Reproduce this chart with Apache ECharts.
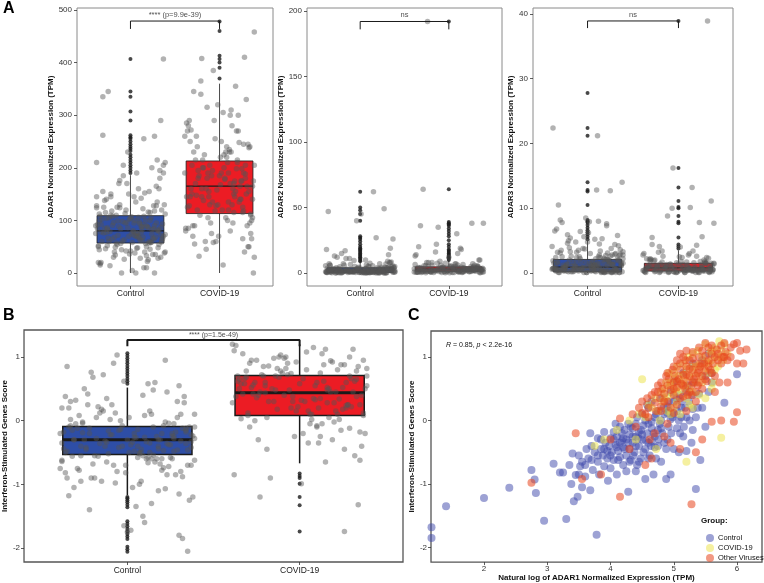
<!DOCTYPE html>
<html><head><meta charset="utf-8">
<script src="https://cdn.jsdelivr.net/npm/echarts@6/dist/echarts.min.js"></script>
<style>html,body{margin:0;padding:0;background:#fff}#c{width:764px;height:583px}</style>
</head><body><div id="c"></div>
<script>
const FONT = '"Liberation Sans", Arial, Helvetica, sans-serif';
const groups = ['Control', 'COVID-19'];
const boxColors = ['#2e4ea6', '#ec1c24'];

// jitter offsets (category units)
const ctrlDx = [-0.31,0.12,0.35,-0.05,0.22,-0.38,0.08,-0.19,0.29,-0.27,
0.02,0.17,-0.12,0.39,-0.34,0.25,-0.08,0.31,-0.22,0.05,
0.14,-0.36,0.27,-0.15,0.37,-0.02,0.19,-0.29,0.1,-0.24,
0.33,-0.1,0.23,-0.33,0.06,0.38,-0.18,0.15,-0.39,0.28,
-0.06,0.21,-0.26,0.03,0.34,-0.14,0.11,-0.35,0.26,-0.21,
0.07,0.32,-0.03,0.18,-0.3,0.24,-0.11,0.36,-0.25,0.01,
0.16,-0.37,0.3,-0.07,0.2,-0.32,0.09,0.39,-0.17,0.13,
-0.28,0.04,0.35,-0.23,0.27,-0.04,0.18,-0.38,0.1,-0.13,
0.32,-0.2,0.06,0.24,-0.34,0.15,-0.09,0.37,-0.26,0.0,
0.29,-0.16,0.12,-0.31,0.22,-0.01,0.34,-0.22,0.08,-0.36,
0.04,-0.24,0.31,-0.12,0.19,-0.33,0.09,0.36,-0.06,0.27,
-0.18,0.13,-0.38,0.23,-0.01,0.34,-0.27,0.07,0.39,-0.15,
0.2,-0.3,0.02,0.28,-0.09,0.16,-0.35,0.32,-0.2,0.11,
-0.04,0.25,-0.37,0.14,0.37,-0.23,0.05,-0.29,0.21,-0.11,
0.33,-0.16,0.08,-0.39,0.26,-0.07,0.18,-0.32,0.3,0.0,
-0.25,0.12,0.38,-0.13,0.22,-0.36,0.03,0.29,-0.19,0.15,
-0.02,0.35,-0.28,0.1,-0.08,0.24,-0.34,0.17,0.06,-0.21,
0.31,-0.14,0.01,0.37,-0.26,0.2,-0.05,0.13,-0.31,0.27,
-0.17,0.09,0.34,-0.38,0.23,-0.1,0.04,0.3,-0.22,0.18,
-0.35,0.14,-0.03,0.26,-0.27,0.39,0.07,-0.12,0.21,-0.33];
const covDx = [0.21,-0.33,0.07,0.36,-0.14,0.28,-0.25,0.02,0.39,-0.08,
0.15,-0.37,0.31,-0.19,0.1,-0.29,0.24,-0.04,0.34,-0.22,
0.05,0.38,-0.12,0.19,-0.35,0.27,-0.02,0.13,-0.27,0.33,
-0.17,0.09,-0.39,0.23,0.0,0.35,-0.21,0.16,-0.31,0.26,
-0.06,0.37,-0.15,0.11,-0.36,0.3,-0.1,0.2,-0.24,0.04,
0.32,-0.18,0.14,-0.3,0.25,-0.03,0.39,-0.13,0.08,-0.38,
0.18,-0.26,0.29,-0.07,0.12,-0.34,0.22,0.01,-0.2,0.35,
-0.11,0.26,-0.32,0.06,0.17,-0.23,0.33,-0.05,0.1,-0.28,
-0.2,0.11,0.34,-0.09,0.24,-0.36,0.03,0.29,-0.16,0.17,
-0.31,0.08,0.37,-0.24,0.14,-0.02,0.31,-0.38,0.2,-0.12,
0.06,-0.28,0.26,-0.05,0.36,-0.19,0.12,-0.34,0.22,-0.09,
0.01,0.33,-0.26,0.16,-0.13,0.28,-0.37,0.09,0.38,-0.21,
-0.04,0.19,-0.3,0.27,-0.15,0.04,0.35,-0.23,0.13,-0.01,
0.3,-0.35,0.1,-0.18,0.23,-0.07,0.37,-0.27,0.15,-0.33,
0.25,-0.11,0.05,0.32,-0.39,0.18,-0.14,0.07,0.29,-0.25,
-0.08,0.21,-0.32,0.12,0.39,-0.2,0.02,0.27,-0.29,0.16];

// ADAR1
const a1Box = [[0,57,80,109,186],[0,113,165,213,360]];
const a1OutC = [190,195,200,205,210,215,220,225,232,236,240,245,250,255,258,262,290,307,335,345,407];
const a1OutV = [370,390,400,407,413,460,478];
const a1JitC = [335,88,62,120,45,210,75,30,95,140,58,100,176,73,15,66,205,82,110,38,92,50,260,125,407,150,22,85,97,60,180,44,105,78,0,130,68,255,90,35,113,155,52,81,290,72,28,99,64,118,47,160,86,10,76,200,56,93,345,107,40,84,135,63,25,102,71,210,49,88,115,145,59,79,0,96,33,124,66,170,54,91,70,74,18,108,61,190,83,42,128,57,77,262,100,36,87,150,69,20,
72,105,48,130,88,20,160,65,95,118,40,82,145,58,102,30,77,190,112,54,86,125,5,68,98,152,44,80,108,62,170,35,92,122,70,14,100,138,57,84,195,110,48,75,128,26,90,60,215,104,66,142,38,88,115,52,78,165,96,10,70,120,46,94,185,82,108,56,135,64,28,99,74,205,86,116,42,62,155,90,34,106,72,128,58,0,95,80,145,50,112,68,230,84,104,40,76,124,60,92];
const a1JitV = [300,145,230,65,180,410,120,250,30,195,160,285,90,215,135,345,175,60,240,110,200,0,155,270,85,190,130,310,170,50,225,100,260,140,185,75,365,150,205,115,290,165,45,235,125,330,95,210,180,15,245,138,280,70,198,158,458,105,220,80,355,148,188,58,300,128,248,168,408,112,205,65,272,178,145,32,238,118,190,90,
160,230,95,185,140,270,120,205,60,175,150,240,105,195,130,320,165,85,215,145,180,55,125,255,100,200,170,290,135,75,220,155,260,115,190,40,145,210,175,340,128,198,90,245,160,305,110,185,230,70,150,280,120,200,165,385,140,215,95,250,175,130,225,50,190,155,315,105,180,240,135,270,160,80,205,145,190,118,230,170];
// ADAR2
const a2Box = [[0,0.5,2,4,9],[0,1.3,3,4.7,9.5]];
const a2OutC = [9,10,11,12,13,14,15,16,17,18,19,20,22,24,26,27,28,40,45,48,50,62];
const a2OutV = [10,11,12,13,14,15,16,17,18,20,22,25,28,30,32,34,36,37,38,39,64,192];
const a2JitC = [2,1,5,0.5,3,18,1.5,7,0.2,4,2.5,1,11,0.8,6,3.5,1.2,9,0.3,2,5.5,1,49,2.8,0.6,4.5,1.8,13,0.4,3,8,1.1,2.2,0.7,10,3.8,1.4,62,0.9,2.6,5,0.1,12,1.6,3.2,0.5,7.5,2.1,1,15,0.3,4.2,2.4,27,1.3,0.8,6.5,2.9,0.6,45,1.9,3.6,0.2,9.5,1.2,2.3,5.2,0.7,17,1.5,3.1,0.4,8.5,2,1.1,40,2.7,0.9,4.8,1.7,14,0.5,3.4,1.3,6,2.2,0.8,26,1,3.9,0.3,11,2.5,1.6,7,0.6,19,2.8,1.2,47,
1.5,0.3,2.8,0.9,4,1.2,0.5,3.3,2,0.1,6,1.7,0.7,2.5,0.4,3.6,1.1,0.2,5,1.9,0.8,2.9,0.3,4.4,1.4,0.6,7,2.3,1,0.2,3.1,1.6,0.5,2.6,0.9,4.7,0.1,1.8,3.4,0.7,2.2,1.3,0.4,5.6,2.7,0.8,1.5,0.3,3.8,1.1,2,0.6,4.2,1.7,0.2,2.4,0.9,6.8,1.3,0.5,3,1.9,0.1,2.6,1,4.5,0.7,1.4,3.5,0.3,2.1,1.2,0.6,5.3,2.8,0.4,1.6,0.9,3.2,0.2,2.3,1.1,7.8,0.5,1.8,2.9,0.8,4,1.3,0.1,2.5,0.7,3.7,1.5,0.3,2,6.2,1,0.6,2.7];
const a2JitV = [3,1,5,0.5,22,2,8,1.5,38,4,0.8,14,2.5,6,1.2,64,3.5,0.3,10,2,4.5,1,35,3,0.6,7,2.2,19,1.8,5,0.4,30,3.2,1.1,12,2.8,0.9,6.5,1.6,38,4.2,2,16,0.7,3.6,1.4,9,2.4,192,0.5,5.5,2.1,18,3.3,1.2,4,0.8,7.5,2.6,13,1.9,0.3,6,3,1.5,20,2.3,4.8,0.6,10,3.8,1.7,36,2.9,1,8,4.4,0.9,15,2.7,
2.5,4,1,6,3.2,0.7,5,2,1.5,3.8,0.4,7,2.8,1.2,4.5,0.9,3,6.5,1.8,2.4,0.5,5.5,3.5,1.3,2.2,8,0.8,4.2,2.6,1.6,0.3,3.3,5.8,1.1,2.9,4.8,0.6,2,3.6,1.4,7.5,2.7,0.9,4.1,1.9,3.1,0.2,5.2,2.3,1.7,3.9,0.7,6.2,2.1,1,4.4,2.8,1.5,0.4,3.4,5,1.2,2.6,4.6,0.8,3.7,1.8,6.8,2.4,1.3,0.5,3,4.3,1.6,2.9,0.9,5.6,2.2,1.1,3.5];
// ADAR3
const a3Box = [[0,0.2,0.9,2.1,5],[0,0.3,0.8,1.5,3.5]];
const a3OutC = [5.2,5.6,6,6.3,6.6,7,7.4,7.8,8,8.2,10.5,12.6,12.8,14,21.2,22.4,27.8];
const a3OutV = [3.8,4.1,4.4,5.5,7.7,7.9,8.8,10,10.2,11.1,13.2,16.2,38.9];
const a3JitC = [0.5,2.5,0.1,3.8,1.2,22.4,0.3,5.4,1.8,0.8,7.9,0.2,3.2,1.5,0.6,12.7,2.2,0.1,4.6,1,0.4,6.5,2.8,0.7,1.4,8.5,0.2,3.5,1.1,0.9,5.8,0.3,2,1.6,0.5,14,2.6,0.1,4.1,1.3,0.8,7.3,0.4,3,1.9,0.6,21.2,2.4,0.2,5,1.2,0.7,3.7,0.1,8.2,1.7,0.5,2.9,0.9,6.2,0.3,1.5,4.4,0.6,2.1,10.5,0.2,3.3,1.1,0.8,7.8,0.4,2.7,1.4,0.1,5.6,2.3,0.7,12.8,1,0.3,3.9,1.8,0.5,6.8,0.2,2.5,1.2,0.9,4.8,0.6,1.6,8,0.4,3.1,0.1,2,1.3,5.2,0.7,
0.3,1.1,0.6,2.4,0.1,1.7,0.9,3.6,0.4,1.3,0.2,2.8,0.7,1.9,0.1,4.2,0.5,1.2,2.2,0.3,0.8,3.1,1.5,0.2,0.6,5.3,1,0.4,2,1.4,0.1,2.6,0.7,3.4,1.1,0.3,1.8,0.5,7.6,0.9,2.3,0.2,1.3,0.6,3.8,1.6,0.4,0.1,2.9,1,0.7,1.5,0.2,4.8,2.1,0.5,1.2,0.3,3.3,0.8,1.7,0.1,2.5,0.6,6.4,1.4,0.4,2,0.9,0.2,3,1.1,0.5,1.6,0.3,2.7,0.8,4.5,0.1,1.3,0.6,2.2,0.4,1.9,0.2,3.5,1,0.7,5.9,1.5,0.3,2.4,0.9,0.1,1.2,2.8,0.5,1.8,0.2,3.2];
const a3JitV = [0.5,1.2,0.1,11.1,0.8,2,0.3,4,1.5,0.6,13.2,0.2,2.4,1,0.4,5.5,1.8,0.7,0.1,3.2,1.3,0.5,8.8,0.9,2.2,0.3,1.6,10.1,0.6,0.2,2.6,1.1,0.4,7.8,1.4,0.8,0.1,3.4,1.9,0.5,16.2,1.2,0.3,2.8,0.7,1.5,0.2,4.3,1,0.6,38.9,1.7,0.4,2.1,0.9,0.1,7.7,1.3,0.5,3,0.8,0.2,1.8,10,0.6,1.1,0.3,2.5,1.4,0.7,0.1,5.6,1,0.4,1.6,0.9,2.3,0.2,1.2,0.5,
0.4,0.9,0.2,1.4,0.6,0.1,1.8,0.3,1,0.7,2.2,0.5,0.2,1.2,0.8,0.1,1.6,0.4,2.6,0.6,0.3,1.1,0.9,0.2,1.5,0.5,3,0.7,0.1,1.3,0.4,0.8,2,0.3,1,0.6,0.2,1.7,0.5,4.1,0.9,0.1,1.2,0.4,0.7,2.4,0.3,1.1,0.6,0.2,1.5,0.8,0.4,3.4,0.1,1,0.5,1.9,0.3,0.7,1.3,0.2,0.9,0.6,2.8,0.4,1.1,0.1,1.6,0.5,0.8,0.3,2.1,0.7,1.4,0.2,1,0.6,4.4,0.4];
// ISG score
const bBox = [[-1.17,-0.53,-0.3,-0.09,0.52],[-0.67,0.08,0.44,0.71,1.2]];
const bOutC = [0.58,0.62,0.66,0.7,0.74,0.78,0.82,0.86,0.9,0.94,0.98,1.02,1.06,-1.2,-1.22,-1.25,-1.28,-1.32,-1.36,-1.58,-1.62,-1.66,-1.7,-1.74,-1.78,-1.82,-1.86,-1.98,-2.02,-2.06];
const bOutV = [-0.83,-0.87,-0.9,-0.99,-1.2,-1.33,-1.74];
const bJitC = [-0.3,0.58,-0.7,-0.15,-1.07,0.2,-0.45,-0.9,0.05,-0.55,-1.72,-0.25,0.35,-0.62,-0.1,-0.38,0.9,-0.8,-0.2,-1.35,0.1,-0.5,-0.05,-0.95,-0.33,0.62,-0.68,-0.12,-1.6,-0.42,0.28,-0.22,-0.85,0.02,-0.58,-1.2,-0.28,0.48,-0.75,-0.18,1.03,-0.47,-0.02,-1.05,-0.36,0.15,-0.6,-0.9,-0.24,0.76,-0.52,-1.85,-0.08,-0.4,0.32,-0.72,-0.16,-1.25,-0.3,0.05,-0.65,-0.44,0.55,-0.98,-0.2,-0.56,-1.5,-0.1,0.22,-0.35,-0.78,-0.26,-2.05,0.42,-0.48,-0.14,-1.1,-0.62,0.08,-0.32,-0.88,0.68,-0.4,-0.04,-1.18,-0.54,0.25,-0.7,-0.19,-1.75,-0.46,0.12,-0.58,-0.3,0.95,-0.82,-0.12,-1.4,-0.5,0.38,
-0.2,-0.45,0.1,-0.65,-0.3,0.3,-0.55,-0.1,-0.8,-0.25,0.05,-0.5,-0.35,0.45,-0.7,-0.15,-0.4,-1.0,-0.28,0.18,-0.6,-0.05,-0.38,-0.85,-0.22,0.6,-0.48,-0.12,-0.68,-0.33,0.0,-0.58,-0.18,-1.3,-0.42,0.25,-0.27,-0.75,-0.08,-0.52,0.38,-0.36,-0.95,-0.2,-0.6,0.12,-0.44,-0.15,-1.15,-0.3,0.5,-0.66,-0.24,-0.4,-0.02,-0.82,-0.34,0.3,-0.55,-0.1,-1.65,-0.46,0.08,-0.26,-0.7,-0.38,0.2,-0.6,-0.14,-0.9,-0.32,0.72,-0.5,-0.22,-0.04,-0.78,-0.42,0.15,-1.05,-0.28,-0.56,0.4,-0.18,-0.64,-0.36,0.02,-0.48,-1.8,-0.12,-0.3,0.85,-0.6,-0.4,-0.2,-0.95,0.1,-0.5,-0.34,-0.74,-0.08];
const bJitV = [0.45,1.05,0.1,-0.4,0.7,0.25,0.95,-0.2,0.55,0.82,-0.65,0.38,1.12,0.05,0.6,-0.1,0.88,0.3,-1.32,0.72,0.15,0.5,1.0,-0.3,0.65,0.2,0.92,-0.05,0.42,0.78,-0.9,0.33,1.2,0.02,0.58,-0.18,0.85,0.28,0.68,-1.74,0.48,0.12,0.98,-0.35,0.62,0.22,0.75,-0.02,0.4,1.08,-0.55,0.3,0.88,0.08,0.52,-0.25,0.7,0.18,1.15,-0.85,0.45,0.6,-0.12,0.9,0.35,0.03,0.8,-0.99,0.55,0.25,1.03,-0.45,0.66,0.1,0.5,-1.2,0.38,0.74,-0.08,0.95,
0.6,0.2,0.85,0.4,-0.15,0.7,0.3,1.0,0.5,0.05,0.78,0.35,0.95,-0.3,0.62,0.15,0.45,1.1,0.28,0.68,-0.05,0.52,0.88,0.2,0.4,-0.45,0.75,0.58,0.1,0.98,0.32,0.65,0.0,0.48,0.82,0.25,1.18,0.55,-0.2,0.7,0.38,0.92,0.12,0.6,0.3,0.8,-0.62,0.45,1.05,0.22,0.66,0.5,-0.1,0.86,0.34,0.72,0.08,0.56,1.12,0.42,0.18,0.78,-0.35,0.62,0.28,0.94,0.48,0.02,0.7,0.36,1.0,0.15,0.58,-0.25,0.82,0.44,0.66,0.24,0.9,0.52];

// significance brackets [y, tick length, label]
const brA1 = [479, 15, '**** (p=9.9e-39)'];
const brA2 = [192, 6, 'ns'];
const brA3 = [38.9, 1.1, 'ns'];
const brB = [1.267, 0.1, '**** (p=1.5e-49)'];

// scatter: [ln ADAR1, ISG score]
const scCtrl = [[1.16,-0.95],[1.16,-1.25],[1.16,-1.62],[1.17,-1.68],[1.16,-1.75],[1.17,-1.85],[1.16,-2.05],[1.4,-1.35],[2.0,-1.22],[2.4,-1.06],[2.75,-0.78],[2.8,-0.93],[2.82,-1.14],[2.95,-1.58],[3.1,-0.68],[3.2,-0.82],[3.25,-0.82],[3.3,-1.55],[3.35,-0.7],[3.38,-1.0],[3.4,-0.52],[3.42,-1.27],[3.45,-0.86],[3.48,-1.2],[3.5,-0.55],[3.52,-0.72],[3.55,-0.65],[3.55,-1.05],[3.6,-0.88],[3.62,-0.45],[3.65,-0.6],[3.68,-0.2],[3.68,-1.1],[3.7,-0.62],[3.72,-0.78],[3.75,-0.5],[3.78,-1.8],[3.8,-0.28],[3.8,-0.65],[3.82,-0.85],[3.85,-0.45],[3.88,-0.55],[3.9,-0.18],[3.9,-0.72],[3.92,-0.35],[3.95,-0.6],[3.96,-0.95],[3.98,-0.4],[4.0,-0.28],[4.0,-0.75],[4.02,-0.5],[4.05,-0.18],[4.05,-0.62],[4.08,-0.38],[4.1,-0.85],[4.1,-0.25],[4.12,-0.48],[4.15,-0.1],[4.15,-0.58],[4.18,-0.32],[4.2,-0.7],[4.2,-0.42],[4.22,-0.15],[4.25,-0.55],[4.25,-0.3],[4.28,-1.12],[4.28,-0.05],[4.3,-0.45],[4.3,-0.22],[4.32,-0.62],[4.35,-0.35],[4.35,-0.12],[4.38,-0.5],[4.4,-0.25],[4.4,-0.8],[4.42,0.05],[4.45,-0.4],[4.45,-0.18],[4.48,-0.6],[4.5,-0.3],[4.5,0.1],[4.52,-0.08],[4.55,-0.45],[4.55,-0.92],[4.58,-0.2],[4.6,0.2],[4.6,-0.35],[4.62,-0.55],[4.65,-0.12],[4.65,0.3],[4.68,-0.85],[4.7,-0.25],[4.7,0.05],[4.72,-0.6],[4.75,0.15],[4.75,-0.4],[4.78,-0.05],[4.8,0.35],[4.8,-0.65],[4.82,-0.2],[4.85,0.1],[4.88,-0.92],[4.9,-0.3],[4.9,0.22],[4.92,-0.1],[4.95,0.45],[4.95,-0.85],[4.98,0.05],[5.0,0.3],[5.0,-0.45],[5.02,0.62],[5.05,0.15],[5.08,-0.5],[5.1,0.4],[5.12,0.05],[5.15,0.75],[5.15,-0.25],[5.18,0.2],[5.2,-0.48],[5.22,0.55],[5.25,0.0],[5.28,-0.35],[5.3,0.9],[5.3,0.18],[5.32,0.6],[5.35,-1.08],[5.35,0.05],[5.4,0.42],[5.42,-0.62],[5.45,0.95],[5.5,0.7],[5.55,1.05],[5.55,0.45],[5.6,0.6],[5.8,0.28],[6.0,0.73],[5.3,-0.15],[4.58,0.25],[4.08,-0.05],[3.85,-0.3],[4.42,-0.7],[4.65,-0.02],[5.05,-0.12],[4.92,0.15],[5.12,0.3],[5.38,0.2],
[3.95,-0.48],[4.05,-0.3],[4.12,-0.62],[4.18,-0.2],[4.22,-0.45],[4.28,-0.35],[4.32,-0.1],[4.36,-0.55],[4.4,-0.4],[4.44,-0.28],[4.48,-0.15],[4.52,-0.5],[4.56,-0.32],[4.6,-0.05],[4.64,-0.4],[4.68,-0.2],[4.72,0.1],[4.76,-0.3],[4.8,-0.12],[4.84,0.2],[4.88,-0.45],[4.92,0.3],[4.96,-0.2],[5.0,0.1],[5.04,0.35],[5.08,0.0],[5.12,0.2],[5.16,-0.1],[5.2,0.45],[5.24,0.3],[4.0,-0.55],[4.1,-0.42],[4.2,-0.28],[4.3,-0.65],[4.4,-0.05],[4.5,-0.22],[4.6,-0.6],[4.7,-0.42],[4.8,0.0],[4.9,0.12],[3.7,-0.4],[3.6,-0.7],[3.5,-0.85],[3.8,-0.55],[3.9,-0.45],[4.25,-0.8],[4.45,-0.65],[4.55,0.0],[4.75,-0.15],[4.85,-0.35],[5.1,-0.2],[5.3,0.4],[5.45,0.2],[5.5,-0.1],[5.6,0.75],[5.2,0.05],[4.15,-0.35],[4.35,-0.25],[4.65,-0.32],[4.95,0.02]];
const scCovid = [[3.75,-0.4],[3.9,-0.3],[4.1,-0.15],[4.3,0.0],[4.45,0.1],[4.5,0.65],[4.55,0.05],[4.6,0.25],[4.65,0.2],[4.7,0.35],[4.72,-0.45],[4.75,0.15],[4.8,0.45],[4.82,0.3],[4.85,0.5],[4.88,0.6],[4.9,0.38],[4.92,0.75],[4.95,0.55],[4.98,0.42],[5.0,0.65],[5.02,0.5],[5.05,0.85],[5.05,0.3],[5.08,0.7],[5.1,0.6],[5.12,0.48],[5.15,0.9],[5.15,0.72],[5.18,0.55],[5.2,-0.65],[5.2,0.8],[5.22,1.0],[5.25,0.68],[5.28,0.85],[5.3,0.45],[5.3,1.05],[5.32,0.75],[5.35,0.6],[5.38,1.1],[5.4,0.88],[5.42,0.7],[5.45,1.0],[5.48,0.82],[5.5,1.2],[5.52,0.92],[5.55,0.75],[5.58,1.08],[5.6,0.95],[5.62,0.6],[5.65,1.15],[5.68,1.0],[5.7,0.85],[5.72,1.25],[5.75,1.1],[5.78,0.95],[5.75,-0.27],[5.8,1.2],[5.5,0.35],[5.0,0.2],[4.78,0.0],[4.4,-0.3],[5.25,0.25],[5.6,0.5],[4.95,0.1],
[4.85,0.35],[4.95,0.6],[5.05,0.45],[5.15,0.62],[5.25,0.5],[5.35,0.85],[5.45,0.6],[5.55,0.9],[5.65,0.8],[5.75,1.0],[5.0,0.75],[5.2,0.35],[5.4,0.4],[5.6,1.1],[5.85,1.05],[4.9,0.15],[5.1,0.1],[5.3,0.2]];
const scOther = [[2.75,-0.98],[3.45,-0.2],[3.55,-0.92],[3.85,-0.85],[4.15,-1.2],[4.0,-0.3],[4.15,0.03],[4.3,-0.45],[4.35,0.1],[4.4,-0.1],[4.45,0.2],[4.5,0.3],[4.55,0.1],[4.58,0.35],[4.6,0.2],[4.62,-0.3],[4.65,0.4],[4.7,0.28],[4.72,0.15],[4.75,0.45],[4.78,0.35],[4.8,0.6],[4.8,0.22],[4.82,0.5],[4.85,0.42],[4.88,0.7],[4.9,0.55],[4.9,0.3],[4.92,0.65],[4.95,0.48],[4.95,-0.35],[4.98,0.8],[5.0,0.6],[5.0,0.4],[5.02,0.7],[5.05,0.52],[5.05,0.95],[5.08,0.65],[5.1,0.8],[5.1,0.35],[5.12,0.58],[5.15,0.72],[5.15,1.0],[5.18,0.5],[5.2,0.85],[5.2,0.62],[5.22,0.4],[5.25,0.95],[5.25,0.7],[5.28,0.55],[5.28,-1.32],[5.3,0.8],[5.3,1.08],[5.32,0.65],[5.35,0.9],[5.35,0.45],[5.38,0.75],[5.4,1.0],[5.4,0.6],[5.42,0.85],[5.45,0.7],[5.45,1.1],[5.48,0.9],[5.5,0.78],[5.5,1.02],[5.52,0.62],[5.55,0.95],[5.55,1.15],[5.58,0.8],[5.6,1.05],[5.62,0.9],[5.65,0.7],[5.68,1.12],[5.7,0.95],[5.72,0.6],[5.75,1.18],[5.78,1.0],[5.8,1.22],[5.82,1.08],[5.85,0.95],[5.9,1.15],[5.95,1.2],[6.0,0.9],[6.05,1.1],[6.15,1.12],[6.0,1.22],[5.6,-0.02],[5.75,0.0],[5.95,-0.02],[6.0,0.13],[5.35,-0.5],[5.1,-0.45],[4.85,-0.25],[4.65,-0.6],[5.45,-0.3],[4.7,-0.2],[5.2,0.15],[5.0,0.12],[4.55,-0.7],
[4.9,0.75],[5.0,0.85],[5.05,0.62],[5.1,0.9],[5.15,0.55],[5.2,0.72],[5.25,0.82],[5.3,0.6],[5.35,0.7],[5.4,0.8],[5.45,0.9],[5.5,0.65],[5.55,0.85],[5.6,0.75],[5.65,1.0],[5.7,1.05],[5.75,0.9],[5.8,1.0],[4.85,0.3],[4.95,0.2],[5.05,0.25],[5.15,0.38],[5.25,0.45],[5.35,0.3],[5.45,0.5],[4.75,0.55],[4.7,0.45],[4.6,0.05],[4.5,0.12],[5.1,1.05],[5.2,1.1],[5.3,0.98],[5.4,1.15],[5.5,1.22],[5.6,1.18],[5.9,1.0],[6.1,0.9],[5.85,0.6],[5.0,0.5],[5.18,0.95],[5.28,0.4],[5.38,0.55],[4.8,0.15],[4.9,-0.05],[5.65,0.45]];

const aTicks = { a1:[0,100,200,300,400,500], a2:[0,50,100,150,200], a3:[0,10,20,30,40], isg:[-2,-1,0,1], lnx:[2,3,4,5,6] };

function catX(gi, margin, fs) {
  return { type:'value', gridIndex:gi, min:-0.6, max:1.6, splitLine:{show:false},
    axisLine:{show:false, onZero:false},
    axisTick:{show:true, length:3, customValues:[0,1], lineStyle:{color:'#333', width:0.8}},
    axisLabel:{customValues:[0,1], formatter:v=>groups[Math.round(v)], margin, fontSize:fs, color:'#1a1a1a', fontFamily:FONT} };
}
function valY(gi, min, max, ticks, name, gap, margin) {
  return { type:'value', gridIndex:gi, min, max, splitLine:{show:false},
    axisLine:{show:false, onZero:false},
    axisTick:{show:true, length:3, customValues:ticks, lineStyle:{color:'#333', width:0.8}},
    axisLabel:{customValues:ticks, margin, fontSize:8, color:'#333', fontFamily:FONT},
    name, nameLocation:'middle', nameGap:gap, nameRotate:90,
    nameTextStyle:{fontSize:8, fontWeight:'bold', color:'#111', fontFamily:FONT} };
}
function boxRenderer(w, mw) {
  return function(params, api) {
    const x = api.value(0);
    const pMin = api.coord([x, api.value(1)]), pQ1 = api.coord([x, api.value(2)]);
    const pMd = api.coord([x, api.value(3)]), pQ3 = api.coord([x, api.value(4)]);
    const pMx = api.coord([x, api.value(5)]);
    const hw = api.size([0.75, 0])[0] / 2;
    const st = {stroke:'#1a1a1a', lineWidth:w};
    return { type:'group', children:[
      {type:'line', shape:{x1:pMin[0],y1:pMin[1],x2:pQ1[0],y2:pQ1[1]}, style:st},
      {type:'line', shape:{x1:pQ3[0],y1:pQ3[1],x2:pMx[0],y2:pMx[1]}, style:st},
      {type:'rect', shape:{x:pQ1[0]-hw, y:pQ3[1], width:hw*2, height:pQ1[1]-pQ3[1]}, style:{fill:boxColors[x], stroke:'#1a1a1a', lineWidth:w}},
      {type:'line', shape:{x1:pMd[0]-hw,y1:pMd[1],x2:pMd[0]+hw,y2:pMd[1]}, style:{stroke:'#1a1a1a', lineWidth:mw}}
    ]};
  };
}
function panelSeries(gi, box, outC, outV, jitC, jitV, br, opt) {
  const s = [];
  s.push({ type:'custom', name:'box'+gi, xAxisIndex:gi, yAxisIndex:gi,
    dimensions:['x','min','q1','med','q3','max'], encode:{x:0, y:[1,2,3,4,5]},
    data: box.map((b,i)=>[i].concat(b)), renderItem: boxRenderer(opt.w, opt.mw), z:2 });
  s.push({ type:'scatter', name:'out'+gi, xAxisIndex:gi, yAxisIndex:gi, symbolSize:opt.os,
    itemStyle:{color:'#1a1a1a'}, z:3,
    data: outC.map(v=>[0,v]).concat(outV.map(v=>[1,v])) });
  s.push({ type:'scatter', name:'jit'+gi, xAxisIndex:gi, yAxisIndex:gi, symbolSize:opt.js,
    itemStyle:{color:'#555', opacity:0.45}, z:4,
    data: jitC.map((v,i)=>[ctrlDx[i % ctrlDx.length], v]).concat(jitV.map((v,i)=>[1+covDx[i % covDx.length], v])) });
  s.push({ type:'line', name:'br'+gi, xAxisIndex:gi, yAxisIndex:gi, symbol:'none', z:5,
    lineStyle:{color:'#1a1a1a', width:opt.bw}, data:[[0,br[0]-br[1]],[0,br[0]],[1,br[0]],[1,br[0]-br[1]]] });
  s.push({ type:'scatter', name:'lab'+gi, xAxisIndex:gi, yAxisIndex:gi, symbolSize:1, z:5,
    itemStyle:{color:'rgba(0,0,0,0)'},
    label:{show:true, position:'top', distance:opt.ld, formatter:br[2], fontSize:opt.lf, color:'#1a1a1a', fontFamily:FONT},
    data:[[0.5, br[0]]] });
  return s;
}

const chart = echarts.init(document.getElementById('c'), null, {renderer:'canvas'});
const gridBase = {show:true, backgroundColor:'#fff', containLabel:false};
const optA = {w:0.8, mw:1.2, os:4, js:5.5, bw:1, ld:2, lf:7.5};
const optB = {w:1.5, mw:3, os:4, js:5.5, bw:2, ld:1, lf:7};
const series = [].concat(
  panelSeries(0, a1Box, a1OutC, a1OutV, a1JitC, a1JitV, brA1, optA),
  panelSeries(1, a2Box, a2OutC, a2OutV, a2JitC, a2JitV, brA2, optA),
  panelSeries(2, a3Box, a3OutC, a3OutV, a3JitC, a3JitV, brA3, optA),
  panelSeries(3, bBox, bOutC, bOutV, bJitC, bJitV, brB, optB),
  [
    {type:'scatter', name:'Control', xAxisIndex:4, yAxisIndex:4, symbolSize:8, itemStyle:{color:'#3c46aa', opacity:0.5}, data:scCtrl, z:3},
    {type:'scatter', name:'COVID-19', xAxisIndex:4, yAxisIndex:4, symbolSize:8, itemStyle:{color:'#ebe141', opacity:0.5}, data:scCovid, z:3},
    {type:'scatter', name:'Other Viruses', xAxisIndex:4, yAxisIndex:4, symbolSize:8, itemStyle:{color:'#e8461e', opacity:0.55}, data:scOther, z:3}
  ]
);

chart.setOption({
  animation:false,
  backgroundColor:'#fff',
  grid:[
    Object.assign({left:77, top:8, width:196, height:278, borderColor:'#8a8a8a', borderWidth:1}, gridBase),
    Object.assign({left:307, top:8, width:195, height:278, borderColor:'#8a8a8a', borderWidth:1}, gridBase),
    Object.assign({left:533, top:8, width:200, height:278, borderColor:'#8a8a8a', borderWidth:1}, gridBase),
    Object.assign({left:21, top:330, width:382, height:232, borderColor:'#555', borderWidth:1.3}, gridBase),
    Object.assign({left:431, top:331, width:331, height:232, borderColor:'#555', borderWidth:1.3}, gridBase)
  ],
  xAxis:[
    catX(0, 3, 8.5), catX(1, 3, 8.5), catX(2, 3, 8.5), catX(3, 4, 8.5),
    { type:'value', gridIndex:4, min:1.162, max:6.395, splitLine:{show:false},
      axisLine:{show:false, onZero:false},
      axisTick:{show:true, length:3, customValues:aTicks.lnx, lineStyle:{color:'#333', width:0.8}},
      axisLabel:{customValues:aTicks.lnx, margin:3, fontSize:8, color:'#333', fontFamily:FONT},
      name:'Natural log of ADAR1 Normalized Expression (TPM)', nameLocation:'middle', nameGap:10,
      nameTextStyle:{fontSize:8, fontWeight:'bold', color:'#111', fontFamily:FONT} }
  ],
  yAxis:[
    valY(0, -24.7, 503.8, aTicks.a1, 'ADAR1 Normalized Expression (TPM)', 20, 5),
    valY(1, -9.9, 202.3, aTicks.a2, 'ADAR2 Normalized Expression (TPM)', 20, 5),
    valY(2, -2.0, 40.9, aTicks.a3, 'ADAR3 Normalized Expression (TPM)', 16, 5),
    valY(3, -2.22, 1.424, aTicks.isg, 'Interferon-Stimulated Genes Score', 11, 4),
    valY(4, -2.23, 1.41, aTicks.isg, 'Interferon-Stimulated Genes Score', 12, 4)
  ],
  legend:{ orient:'vertical', left:701, top:529, itemWidth:8, itemHeight:8, itemGap:2, icon:'circle',
    selectedMode:false,
    textStyle:{fontSize:7.5, color:'#111', fontFamily:FONT, padding:[0,0,0,-1]},
    data:[
      {name:'Control', itemStyle:{color:'#3c46aa', opacity:0.5}},
      {name:'COVID-19', itemStyle:{color:'#ebe141', opacity:0.5}},
      {name:'Other Viruses', itemStyle:{color:'#e8461e', opacity:0.55}}
    ] },
  graphic:[
    {type:'text', left:3, top:1, style:{text:'A', font:'bold 16px ' + FONT, fill:'#000'}},
    {type:'text', left:3, top:308, style:{text:'B', font:'bold 16px ' + FONT, fill:'#000'}},
    {type:'text', left:408, top:308, style:{text:'C', font:'bold 16px ' + FONT, fill:'#000'}},
    {type:'text', left:701, top:517, style:{text:'Group:', font:'bold 8px ' + FONT, fill:'#111'}},
    {type:'text', left:446, top:342, style:{text:'{i|R} = 0.85, {i|p} < 2.2e-16', font:'7px ' + FONT, fill:'#111',
      rich:{i:{fontStyle:'italic', fontSize:7, fontFamily:FONT}}}}
  ],
  series
});
</script></body></html>
